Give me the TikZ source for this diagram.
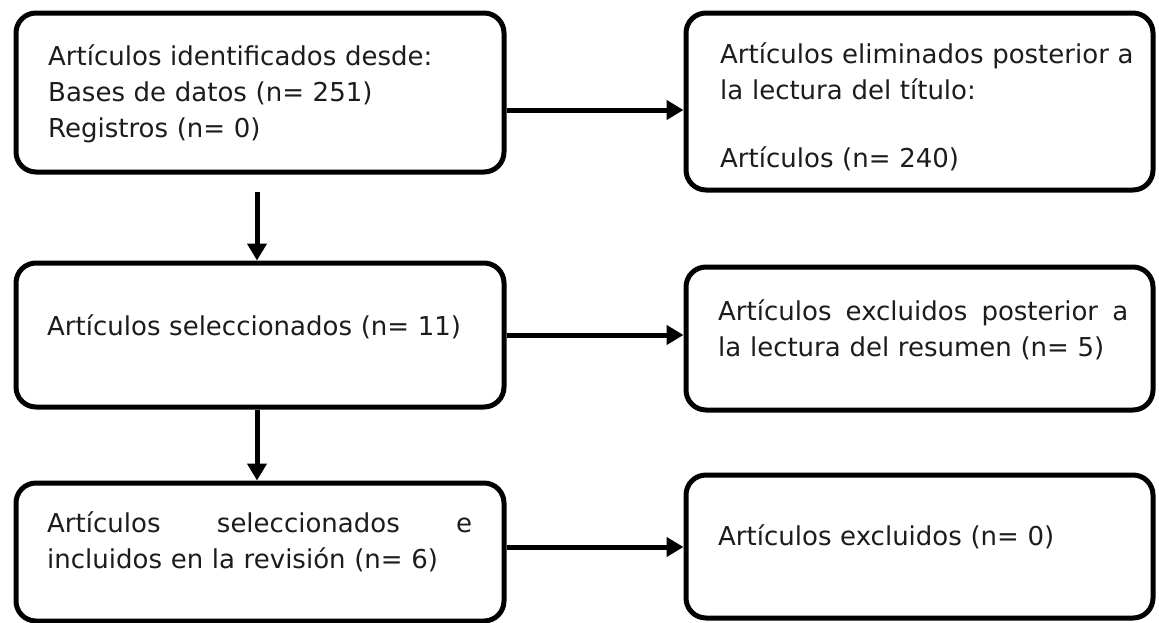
\documentclass[tikz,border=0pt]{standalone}
\usepackage{fontspec}
\setmainfont{DejaVu Sans}
\usetikzlibrary{arrows.meta}
\definecolor{txt}{RGB}{28,28,28}
\begin{document}
\begin{tikzpicture}[x=1pt,y=-1pt,
  box/.style={draw=black,line width=5pt,rounded corners=20pt,fill=white,inner sep=0pt},
  lbl/.style={anchor=north west,inner sep=0pt,text width=460pt,align=left,text=txt,
    font=\fontsize{26}{36}\selectfont},
  arr/.style={line width=5pt,-{Triangle[length=17pt,width=19pt]}}]
\useasboundingbox (0,0) rectangle (1159,622);
\clip (0,0) rectangle (1159,622);
% boxes
\node[box,minimum width=488pt,minimum height=159pt] (b1) at (260,92.5) {};
\node[box,minimum width=467pt,minimum height=177pt] (b2) at (919.5,101.5) {};
\node[box,minimum width=488pt,minimum height=144pt] (b3) at (260,335) {};
\node[box,minimum width=467pt,minimum height=143pt] (b4) at (919.5,338.5) {};
\node[box,minimum width=488pt,minimum height=138pt] (b5) at (260,552) {};
\node[box,minimum width=467pt,minimum height=143pt] (b6) at (919.5,546.5) {};
% texts (top = first baseline - 25.2)
\node[lbl] (t1) at (48,39.8) {\strut Artículos identificados desde:\\Bases de datos (n= 251)\\Registros (n= 0)};
\node[lbl] (t2) at (720,37.8) {\strut Artículos eliminados posterior a\\la lectura del título:\\[32pt]Artículos (n= 240)};
\node[lbl] (t3) at (47,309.8) {\strut Artículos seleccionados (n= 11)};
\node[lbl] (t4) at (718,294.8) {\strut\makebox[410pt][l]{Artículos\hfill excluidos\hfill posterior\hfill a}\\la lectura del resumen (n= 5)};
\node[lbl] (t5) at (47,506.8) {\strut\makebox[425pt][l]{Artículos\hfill seleccionados\hfill e}\\incluidos en la revisión (n= 6)};
\node[lbl] (t6) at (718,519.8) {\strut Artículos excluidos (n= 0)};
% connectors
\coordinate (c1) at (257,192);
\draw[arr] (b1.east |- 0,110) -- (b2.west |- 0,110);
\draw[arr] (b3.east) -- (b3.east -| b4.west);
\draw[arr] (b5.east |- 0,547) -- (b6.west |- 0,547);
\draw[arr] (c1) -- (c1 |- b3.north);
\draw[arr] (b3.south -| c1) -- (c1 |- b5.north);
\end{tikzpicture}
\end{document}
